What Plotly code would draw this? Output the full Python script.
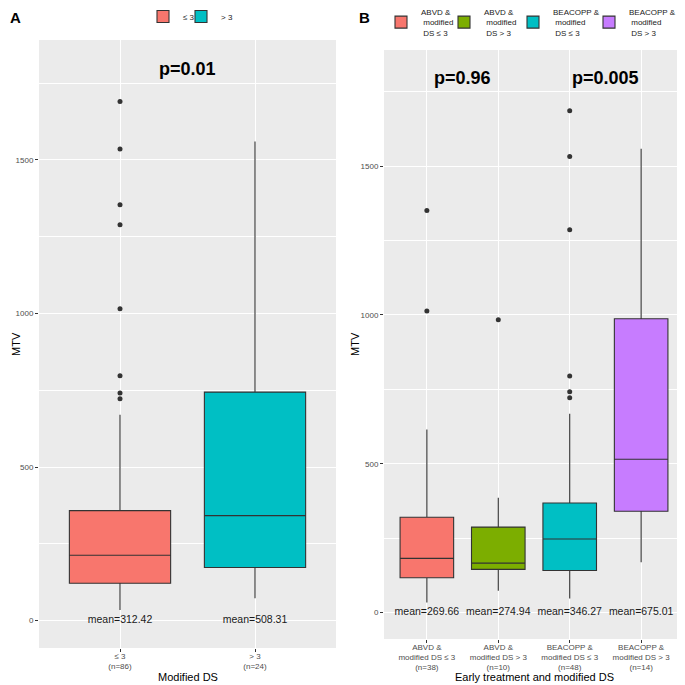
import plotly.graph_objects as go

# ---- panel A: MTV by modified DS ----
ds_groups = ["≤ 3", "> 3"]
ds_n = [86, 24]
a_low = [35, 73]
a_q1 = [122, 173]
a_med = [213, 342]
a_q3 = [358, 744]
a_high = [670, 1560]
a_mean = [312.42, 508.31]
a_outliers = [[1690, 1535, 1354, 1289, 1015, 797, 741, 722], []]
a_colors = ["#F8766D", "#00BFC4"]

# ---- panel B: MTV by early treatment and modified DS ----
tx_groups = ["ABVD &<br>modified DS ≤ 3", "ABVD &<br>modified DS > 3",
             "BEACOPP &<br>modified DS ≤ 3", "BEACOPP &<br>modified DS > 3"]
tx_legend = ["ABVD &<br> modified<br> DS ≤ 3", "ABVD &<br> modified<br> DS > 3",
             "BEACOPP &<br> modified<br> DS ≤ 3", "BEACOPP &<br> modified<br> DS > 3"]
tx_n = [38, 10, 48, 14]
b_low = [34, 73, 47, 169]
b_q1 = [117, 145, 141, 340]
b_med = [182, 166, 247, 515]
b_q3 = [320, 287, 368, 987]
b_high = [615, 386, 668, 1558]
b_mean = [269.66, 274.94, 346.27, 675.01]
b_outliers = [[1351, 1013], [984], [1686, 1532, 1286, 795, 742, 722], []]
b_colors = ["#F8766D", "#7CAE00", "#00BFC4", "#C77CFF"]

FONT = "Liberation Sans, Arial, sans-serif"
# the page body has an 8px margin, so the figure is drawn 8px in from the corner
OFF = 8
W = H = 685 - OFF


def px_x(px):
    return (px - OFF) / W


def px_y(py):
    return 1 - (py - OFF) / H


fig = go.Figure()
legend_ids = iter(["legend", "legend2", "legend3", "legend4", "legend5", "legend6"])
legends = {}
leg_font = dict(size=8, color="#1a1a1a", family=FONT)


def add_panel(fig, cats, labels, low, q1, med, q3, high, outliers, colors, xa, ya,
              leg_x, leg_y):
    for i, c in enumerate(cats):
        lid = next(legend_ids)
        # one legend per key so each key sits where ggplot put it
        legends[lid] = dict(orientation="h", x=px_x(leg_x[i] - 19), xanchor="left",
                            y=px_y(leg_y), yanchor="top", itemwidth=30,
                            font=leg_font, bgcolor="rgba(0,0,0,0)")
        fig.add_trace(go.Box(
            x=[c], lowerfence=[low[i]], q1=[q1[i]], median=[med[i]], q3=[q3[i]],
            upperfence=[high[i]], name=labels[i], fillcolor=colors[i],
            line=dict(color="#333333", width=1.1), whiskerwidth=0, width=0.75,
            boxpoints=False, xaxis=xa, yaxis=ya, legend=lid,
        ))
        if outliers[i]:
            fig.add_trace(go.Scatter(
                x=[c] * len(outliers[i]), y=outliers[i], mode="markers",
                marker=dict(color="#333333", size=5), showlegend=False,
                xaxis=xa, yaxis=ya,
            ))


a_cats = [f"{g}<br>(n={n})" for g, n in zip(ds_groups, ds_n)]
b_cats = [f"{g}<br>(n={n})" for g, n in zip(tx_groups, tx_n)]

add_panel(fig, a_cats, ds_groups, a_low, a_q1, a_med, a_q3, a_high, a_outliers,
          a_colors, "x", "y", [162, 200], 2)
add_panel(fig, b_cats, tx_legend, b_low, b_q1, b_med, b_q3, b_high, b_outliers,
          b_colors, "x2", "y2", [400, 463, 532, 608], 0)

# mean labels at y = 0
mean_font = dict(size=10.5, color="#1a1a1a", family=FONT)
fig.add_trace(go.Scatter(x=a_cats, y=[0] * len(a_cats), mode="text",
                         text=[f"mean={m:.2f}" for m in a_mean], textfont=mean_font,
                         showlegend=False, xaxis="x", yaxis="y"))
fig.add_trace(go.Scatter(x=b_cats, y=[0] * len(b_cats), mode="text",
                         text=[f"mean={m:.2f}" for m in b_mean], textfont=mean_font,
                         showlegend=False, xaxis="x2", yaxis="y2"))

p_style = dict(showarrow=False, font=dict(size=18, color="black", family=FONT))
title_font = dict(size=11, color="black", family=FONT)
lab_font = dict(size=15, color="black", family=FONT)

annotations = [
    dict(x=0.5, y=1795, xref="x", yref="y", text="<b>p=0.01</b>", **p_style),
    dict(x=0.5, y=1797, xref="x2", yref="y2", text="<b>p=0.96</b>", **p_style),
    dict(x=2.5, y=1797, xref="x2", yref="y2", text="<b>p=0.005</b>", **p_style),
]
for txt, (px, py), ang in [("<b>A</b>", (15, 17), 0), ("<b>B</b>", (364, 17), 0),
                           ("MTV", (16, 344), -90), ("MTV", (355, 344), -90),
                           ("Modified DS", (188, 677), 0),
                           ("Early treatment and modified DS", (534, 677), 0)]:
    annotations.append(dict(x=px_x(px), y=px_y(py), xref="paper", yref="paper", text=txt,
                            xanchor="center", yanchor="middle", textangle=ang,
                            showarrow=False,
                            font=lab_font if "<b>" in txt else title_font))

tick_font = dict(size=8, color="#4D4D4D", family=FONT)
yax = dict(range=[-89, 1890], tickvals=[0, 500, 1000, 1500], ticks="outside", ticklen=3,
           tickcolor="#333333", tickfont=tick_font, showgrid=True, gridcolor="white",
           gridwidth=1.2, zeroline=False, showline=False, automargin=False,
           minor=dict(tickvals=[250, 750, 1250, 1750], showgrid=True, gridcolor="white",
                      gridwidth=0.6, ticks=""))
xax = dict(type="category", ticks="outside", ticklen=3, tickcolor="#333333",
           tickfont=tick_font, showgrid=True, gridcolor="white", gridwidth=1.2,
           zeroline=False, showline=False, automargin=False, ticklabelstandoff=-3)

fig.update_layout(
    width=W, height=H,
    margin=dict(l=0, r=0, t=0, b=0, autoexpand=False),
    paper_bgcolor="white", plot_bgcolor="#EBEBEB",
    font=dict(family=FONT),
    boxmode="overlay",
    xaxis=dict(domain=[px_x(39), px_x(336)], range=[-0.6, 1.6], anchor="y", **xax),
    yaxis=dict(domain=[px_y(648), px_y(40)], anchor="x", **yax),
    xaxis2=dict(domain=[px_x(384), px_x(684)], range=[-0.6, 3.6], anchor="y2", **xax),
    yaxis2=dict(domain=[px_y(639), px_y(50)], anchor="x2", **yax),
    annotations=annotations,
    **legends,
)

fig.write_html("out.html")
